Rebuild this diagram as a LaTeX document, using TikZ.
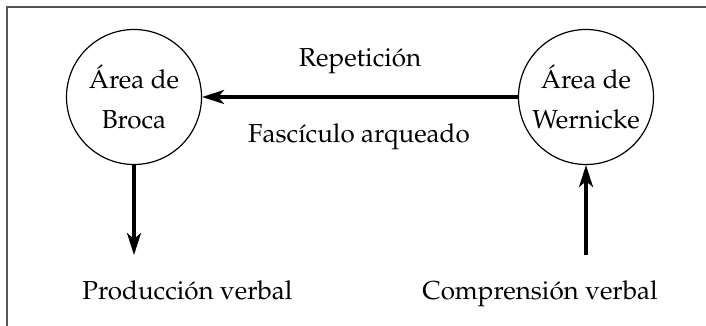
\documentclass[tikz,border=0pt]{standalone}
\usepackage[T1]{fontenc}
\usepackage{mathpazo}
\usetikzlibrary{arrows.meta}
\definecolor{frameGray}{HTML}{555555}
\tikzset{
  area node/.style={
    draw,circle,minimum size=67.5pt,inner sep=0pt,align=center,line width=0.6pt,
    font=\fontsize{13}{20}\selectfont,
  },
  label node/.style={anchor=base,inner sep=0pt,font=\fontsize{13}{16}\selectfont},
  tract/.style={line width=1.7pt,-{Stealth[length=11pt,width=7pt,inset=3pt]}},
}

\begin{document}
\begin{tikzpicture}[x=0.5pt,y=-0.5pt]
   \useasboundingbox (0,0) rectangle (706,326);

   % FRAME
   \path[draw=frameGray,line width=1pt] (6.7,326)--(6.7,7)--(706,7);

   % NODES
   \node[area node] (broca) at (134,97) {Área de\\Broca}; % production
   \node[area node] (wernicke) at (586,97) {Área de\\Wernicke}; % comprehension
   \coordinate (out) at (134,255);
   \coordinate (in) at (586,255);

   % LABELS
   \node[label node] (rep) at (360,67) {Repetición};
   \node[label node] (fasc) at (359,142) {Fascículo arqueado};
   \node[label node] (prod) at (187.5,299) {Producción verbal};
   \node[label node] (comp) at (540,299) {Comprensión verbal};

   % DRAW TRACTS
   \path[draw,tract] (wernicke)--(broca);
   \path[draw,tract] (broca)--(out);
   \path[draw,tract] (in)--(wernicke);

\end{tikzpicture}
\end{document}
